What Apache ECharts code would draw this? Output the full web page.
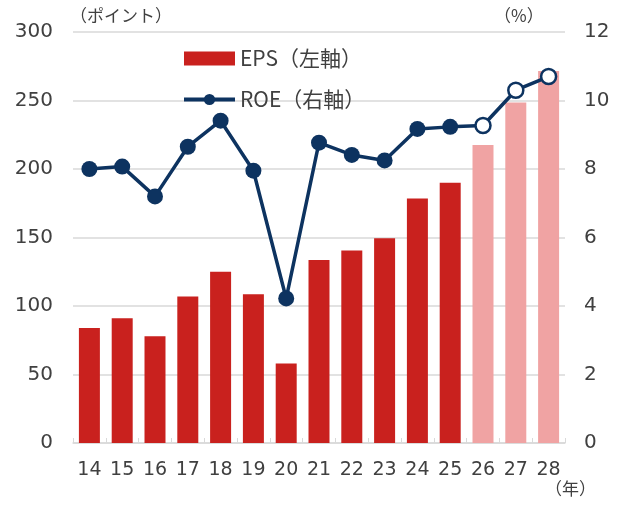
<!DOCTYPE html>
<html>
<head>
<meta charset="utf-8">
<script src="https://cdn.jsdelivr.net/npm/echarts@6/dist/echarts.min.js"></script>
<style>
  html, body { margin: 0; padding: 0; background: #fff; }
  #main { width: 621px; height: 507px; }
</style>
</head>
<body>
<div id="main"></div>
<script>
// 年（14〜28、26以降は予想）
var years = ['14', '15', '16', '17', '18', '19', '20', '21', '22', '23', '24', '25', '26', '27', '28'];
var eps = [84, 91, 78, 107, 125, 108.5, 58, 133.5, 140.5, 149.5, 178.5, 190, 217.5, 248.5, 271.5];
var roe = [8.0, 8.07, 7.2, 8.65, 9.41, 7.95, 4.22, 8.77, 8.41, 8.25, 9.17, 9.23, 9.27, 10.3, 10.7];
var forecastFrom = 12; // 26年から予想

var fontNum = 'DejaVu Sans, Verdana, sans-serif';
var fontJp = '"Noto Sans CJK JP", sans-serif';
var red = '#c9211e';
var pink = '#f0a3a3';
var navy = '#0d3360';
var txt = '#404040';

var barData = eps.map(function (v, i) {
    return i >= forecastFrom ? { value: v, itemStyle: { color: pink } } : v;
});
var lineData = roe.map(function (v, i) {
    return i >= forecastFrom ? { value: v, symbolSize: 15, itemStyle: { color: '#fff', borderColor: navy, borderWidth: 2.5 } } : v;
});

var chart = echarts.init(document.getElementById('main'));
var option = {
    backgroundColor: '#fff',
    animation: false,
    grid: { left: 73, right: 56, top: 32, bottom: 64 },
    legend: {
        orient: 'vertical',
        left: 177,
        top: 43,
        itemWidth: 51,
        itemHeight: 14,
        itemGap: 20,
        textStyle: { fontFamily: fontJp, fontSize: 21, color: txt },
        data: [
            { name: 'EPS（左軸）', icon: 'rect' },
            { name: 'ROE（右軸）', lineStyle: { width: 4 } }
        ]
    },
    xAxis: {
        type: 'category',
        data: years,
        axisLine: { lineStyle: { color: '#d9d9d9', width: 1.5 } },
        axisTick: { show: true, inside: true, length: 5, lineStyle: { color: '#d9d9d9' } },
        axisLabel: { interval: 0, fontFamily: fontNum, fontSize: 19, color: txt, margin: 18 }
    },
    yAxis: [
        {
            type: 'value',
            min: 0, max: 300, interval: 50,
            axisLine: { show: false },
            axisTick: { show: false },
            splitLine: { lineStyle: { color: '#d9d9d9', width: 1.5 } },
            axisLabel: { fontFamily: fontNum, fontSize: 20, color: txt, margin: 20 }
        },
        {
            type: 'value',
            min: 0, max: 12, interval: 2,
            axisLine: { show: false },
            axisTick: { show: false },
            splitLine: { show: false },
            axisLabel: { fontFamily: fontNum, fontSize: 20, color: txt, margin: 19 }
        }
    ],
    graphic: [
        { type: 'text', left: 70, top: 7, style: { text: '（ポイント）', font: '17px "Noto Sans CJK JP"', fill: txt } },
        { type: 'text', left: 494, top: 7, style: { text: '（%）', font: '17px "Noto Sans CJK JP"', fill: txt } },
        { type: 'text', left: 545, top: 480, style: { text: '（年）', font: '17px "Noto Sans CJK JP"', fill: txt } }
    ],
    series: [
        {
            name: 'EPS（左軸）',
            type: 'bar',
            yAxisIndex: 0,
            barWidth: '64%',
            itemStyle: { color: red },
            data: barData
        },
        {
            name: 'ROE（右軸）',
            type: 'line',
            yAxisIndex: 1,
            symbol: 'circle',
            symbolSize: 16,
            lineStyle: { color: navy, width: 3.5 },
            itemStyle: { color: navy },
            data: lineData
        }
    ]
};
chart.setOption(option);
</script>
</body>
</html>
